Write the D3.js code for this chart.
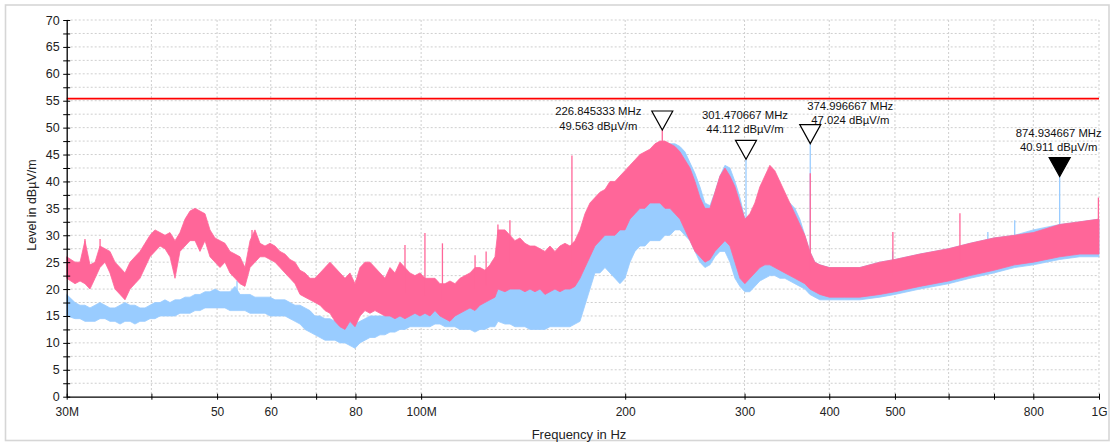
<!DOCTYPE html>
<html><head><meta charset="utf-8">
<script src="https://cdn.jsdelivr.net/npm/d3@7"></script>
<style>
body{margin:0;background:#fff;}
svg{display:block;font-family:"Liberation Sans",Arial,sans-serif;}
</style></head>
<body><svg id="c" width="1114" height="444"></svg>
<script>
// ---- data (frequency in MHz, level in dBµV/m) ----
const freqs = [30.0,30.86,31.39,31.92,32.47,33.03,33.59,34.17,34.75,35.35,35.96,36.57,37.20,37.83,38.48,39.14,39.81,40.49,41.19,41.89,42.61,43.34,44.08,44.84,45.61,46.39,47.18,47.99,48.81,49.65,50.50,51.36,52.24,53.14,54.05,54.97,55.92,56.87,57.85,58.84,59.85,60.87,61.91,62.97,64.05,65.15,66.27,67.40,68.55,69.73,70.92,72.14,73.37,74.63,75.91,77.21,78.53,79.88,81.24,82.64,84.05,85.49,86.96,88.44,89.96,91.50,93.07,94.66,96.28,97.93,99.61,101.32,103.05,104.82,106.61,108.44,110.29,112.18,114.10,116.06,118.05,120.07,122.12,124.22,126.34,128.51,129.82,132.95,135.22,137.54,139.89,142.29,144.73,147.21,149.73,152.29,154.90,157.55,160.25,163.00,165.79,168.63,171.52,174.45,177.44,180.48,183.57,186.72,189.91,193.17,196.47,199.84,203.26,206.74,210.28,213.89,217.55,221.28,225.07,228.92,232.84,236.83,240.89,245.01,249.21,253.48,257.82,262.23,266.72,271.29,275.94,280.67,285.47,290.36,295.34,300.31,305.45,310.68,316.00,321.41,326.92,332.52,338.21,344.01,349.90,355.89,361.99,368.19,374.50,380.91,387.43,400,421.7,443.8,475,500,544,600,645,700,751,800,875,937,1000];

const pinkLo = [22,21,21.5,21,20,22,24,25,23,20,19,18,20,21,22,24,26,27,28,27.5,26,22,27,28,29,29,27,29,26,25,24,25,23,22,21,20.5,24,25,26,26,25.5,25,24,23,22,21,19,18.5,18,17.5,17,16,15.5,14,13,12.5,14,13,15,16,15.5,16,15.5,15,15,14.5,15,14.5,15,15.5,15,15.5,15,16,15,14.5,14,15,15.5,16,16.5,16,17,17.5,18,18.5,20,19.5,20,20,20,19.5,20,19.5,20,19,19.5,20,19.5,20,20,20.5,22,24,26,28,29,30,30,30,31,31,33,34,35,35,36,36,36,35,35,34,33,31,29,27,26,25,25.5,27,28,29,28,25,22,21,22,23,24,24.5,24.5,24,23.5,23,22.5,22,21.5,21,20,19.5,19,18.5,18.5,18.5,19,19.5,20.5,21.5,22.5,23.5,24.5,25,26,26.5,26.5];
const pinkHi = [26,25,25,29,24.5,25,28,27.5,27,25,24,23,25,26,27,28.5,30,31,30.5,30,30.5,29,30.5,33,34.5,35,34.5,34,31,29.5,29,28.5,27,26.5,26,24,29,31,28.5,28,28.5,28,27,26.5,25.5,25,23.5,23,22,22,23,24,25,24,23,22,23,21,24,25,25,24,23,22,24,23,25,24,23,22.5,23,22,22,22,21,21,21.5,21,22,22.5,23,24,24,23.5,24.5,26,31,31,30,29,29.5,28.5,28,28,27.5,27,28,27,28,28.5,28,29,31,34,36,37,38,38.5,40,40,41,42,43,44,45,45.5,46,47,47.5,47.5,47,46.5,45.5,44,42.5,40,37,35,35,38,41,42.5,41,39,36,33,34,36,39,41,43,42,40,38,36,34,32,30,27,25,24.5,24,24,24,25,25.5,26.5,27.5,28.5,29.5,30,30.5,32,32.5,33];

const blueLo = [15,14.5,14.5,14,14,14,14.5,14.5,14,14,13.5,14,14,13.5,14,14,14.5,14.5,15,15,15,15,15.5,15.5,15.5,16,16,16.5,16.5,16.5,16.5,16.5,16,16,16,16,15.5,15.5,15.5,15.5,15,15,15,15,14.5,14,13.5,12.5,12,11.5,11,10.5,10.5,10.5,10,10,9.5,9,10,10.5,11,11,11.5,11.5,12,12,12.5,12.5,13,13,13,13,13,13.5,13.5,13,13,13,12.5,12.5,12.5,12,12.5,12.5,13,13,14,13.5,13.5,13,13,13,12.5,12.5,12.5,12.5,13,13,13,13,13,13.5,14,17,20,23,23,24,23,22,21,22,25,27,28,28,29,29,29,30,30,31,31,30,29,27,25,24,24.5,26,27,27,25,22,20.5,19.5,19.5,20.5,21.5,22,22.5,22.5,22,22,21.5,21,20.5,20,19,18.5,18,18,18,18,18.5,19,20,21,22,23,24,24.5,25.5,26,26];
const blueHi = [19,17.5,17,17,16.5,17,17.5,17,16.5,16.5,17,17.5,17,17,16.5,16.5,17,17.5,17.5,18,17.5,18,18,18.5,18.5,19,19,19.5,19.5,20,19.5,19.5,19.5,20.5,19,19,19,18.5,18.5,18.5,18.5,18,18,18,17.5,17,17,16.5,16,15,15,14.5,14.5,14,14,14,14,13.5,14,14.5,15,15,15,15,15.5,16,16,16.5,16.5,16,16.5,17,17.5,18,18,18.5,18.5,19,19,19,19.5,19.5,20,20,20.5,21,26,25,25,24,24,23.5,23.5,23,23,23,23,23.5,23.5,24,24,24,26,29,32,33,34,35,35,36,37,38,40,41,42,43,44,45,45.5,46.5,47,47,46.5,45.5,43.5,41.5,39,36,35.5,38,41,43,42.5,40,37,33,32,33,34,35,36,36,36,36.5,36,35,33,30,27,25,24.5,24,24,24,25,25.5,26.5,27.5,28.5,29.5,30,31,32,32.5,33];

const pinkSpikeF = [31.92,33.6,56.3,94.66,101.3,107.5,120.1,124.7,129.8,135.2,166.9,226.845333,374.996667,496.5,623.5,998];
const pinkSpikeV = [29.3,29.3,31,28.2,30.4,28.5,26.3,27,32,32.8,44.8,49.563,41.5,30.6,34.1,37];
const blueSpikeF = [53.5,301.470667,374.996667,496,685.5,751,874.934667];
const blueSpikeV = [21.5,44.112,47.024,27,30.6,32.8,40.911];

const limitLevel = 55.4;

const markerF = [226.845333,301.470667,374.996667,874.934667];
const markerV = [49.563,44.112,47.024,40.911];
const markerFilled = [false,false,false,true];
const markerPlace = ["left","above","right","above"];

const xTickValues = [30,40,50,60,70,80,100,200,300,400,500,600,700,800,1000];
const xTickLabels = {30:"30M",50:"50",60:"60",80:"80",100:"100M",200:"200",300:"300",400:"400",500:"500",800:"800",1000:"1G"};
const yTickValues = d3.range(0,70.01,2.5);
const xTitle = "Frequency in Hz";
const yTitle = "Level in dBµV/m";

// ---- drawing ----
const L=66.7,R=1099,T=20,B=396.7;
const pink="#ff6699", blue="#99ccff";
const svg=d3.select("#c");
const x=d3.scaleLog().domain([30,1000]).range([L,R]);
const y=d3.scaleLinear().domain([0,70]).range([B,T]);

svg.append("rect").attr("x",5.5).attr("y",5).attr("width",1103.5).attr("height",435.5)
  .attr("fill","#fff").attr("stroke","#d6d6d6").attr("stroke-width",1.6);

const grid=svg.append("g").attr("stroke","#cfcfcf").attr("stroke-width",1).attr("stroke-dasharray","2,2");
yTickValues.filter(v=>v>0).forEach(v=>{
  grid.append("line").attr("x1",L).attr("x2",R).attr("y1",y(v)).attr("y2",y(v));
});
xTickValues.filter(f=>f>30).forEach(f=>{
  grid.append("line").attr("x1",x(f)).attr("x2",x(f)).attr("y1",T).attr("y2",B);
});

const idx=d3.range(freqs.length);
function band(lo,hi,color){
  const a=d3.area().x(i=>x(freqs[i])).y0(i=>y(lo[i])).y1(i=>y(hi[i])).curve(d3.curveLinear);
  svg.append("path").attr("d",a(idx)).attr("fill",color).attr("stroke",color).attr("stroke-width",0.8);
}
function spikes(F,V,lo,hi,color){
  const mid=d3.scaleLog().domain(freqs).range(freqs.map((f,i)=>(lo[i]+hi[i])/2));
  svg.append("g").selectAll("line").data(F).join("line")
    .attr("x1",f=>x(f)).attr("x2",f=>x(f))
    .attr("y1",(f,i)=>y(V[i])).attr("y2",f=>y(mid(f)))
    .attr("stroke",color).attr("stroke-width",1.3);
}
band(blueLo,blueHi,blue);
spikes(blueSpikeF,blueSpikeV,blueLo,blueHi,blue);
band(pinkLo,pinkHi,pink);
spikes(pinkSpikeF,pinkSpikeV,pinkLo,pinkHi,pink);

svg.append("line").attr("x1",L).attr("x2",R).attr("y1",y(limitLevel)).attr("y2",y(limitLevel))
  .attr("stroke","#ff0000").attr("stroke-width",1.8);

// axes
const xa=svg.append("g").attr("transform",`translate(0,${B})`)
  .call(d3.axisBottom(x).tickValues(xTickValues).tickSizeInner(3).tickSizeOuter(0).tickPadding(8)
    .tickFormat(f=>xTickLabels[f]||""));
xa.select(".domain").attr("stroke","#000").attr("stroke-width",1.3);
xa.selectAll(".tick line").attr("y1",-3).attr("y2",3).attr("stroke","#000");
xa.selectAll(".tick text").attr("font-size",12).attr("fill","#222").attr("font-family","Liberation Sans, Arial, sans-serif");

const ya=svg.append("g").attr("transform",`translate(${L},0)`)
  .call(d3.axisLeft(y).tickValues(yTickValues).tickSizeInner(3).tickSizeOuter(0).tickPadding(4)
    .tickFormat(v=>v%5===0?String(v):""));
ya.select(".domain").attr("stroke","#000").attr("stroke-width",1.3);
ya.selectAll(".tick line").attr("x1",-3.5).attr("x2",3.5).attr("stroke","#000");
ya.selectAll(".tick text").attr("font-size",12.5).attr("fill","#222").attr("font-family","Liberation Sans, Arial, sans-serif");

svg.append("text").attr("x",579).attr("y",439).attr("text-anchor","middle")
  .attr("font-size",13).attr("fill","#222").text(xTitle);
svg.append("text").attr("transform","translate(36,205) rotate(-90)").attr("text-anchor","middle")
  .attr("font-size",12.5).attr("fill","#222").text(yTitle);

// markers
const mg=svg.append("g");
markerF.forEach((f,i)=>{
  const tx=x(f), ty=y(markerV[i]), top=ty-19;
  mg.append("path").attr("d",`M${tx-10.5},${top}L${tx+10.5},${top}L${tx},${ty}Z`)
    .attr("fill",markerFilled[i]?"#000":"#fff").attr("stroke","#000").attr("stroke-width",1.2);
  let cx,b1,b2;
  if(markerPlace[i]==="left"){cx=tx-64;b1=top+4.5;b2=top+19;}
  else if(markerPlace[i]==="right"){cx=tx+40;b1=top-15;b2=top-1;}
  else {cx=tx-1;b1=top-21;b2=top-7;}
  mg.append("text").attr("x",cx).attr("y",b1).attr("text-anchor","middle").attr("font-size",11.3).attr("fill","#111")
    .text(f.toFixed(6)+" MHz");
  mg.append("text").attr("x",cx).attr("y",b2).attr("text-anchor","middle").attr("font-size",11.3).attr("fill","#111")
    .text(markerV[i].toFixed(3)+" dBµV/m");
});
</script></body></html>
